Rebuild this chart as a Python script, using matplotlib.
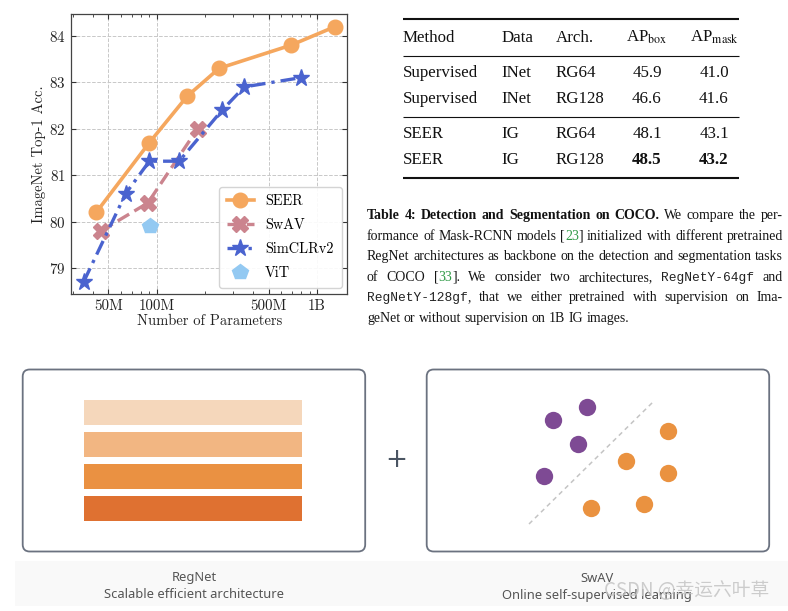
import matplotlib.pyplot as plt
import matplotlib.ticker as mticker
from matplotlib.patches import FancyBboxPatch, Rectangle

# ---- chart data ----
seer_params = [42e6, 90e6, 155e6, 245e6, 690e6, 1.3e9]
seer_acc = [80.2, 81.7, 82.7, 83.3, 83.8, 84.2]
swav_params = [45e6, 88e6, 180e6]
swav_acc = [79.8, 80.4, 82.0]
simclr_params = [35e6, 64e6, 90e6, 138e6, 256e6, 352e6, 795e6]
simclr_acc = [78.7, 80.6, 81.3, 81.3, 82.4, 82.9, 83.1]
vit_params = [91e6]
vit_acc = [79.9]

x_ticks = [50e6, 100e6, 500e6, 1e9]
x_tick_labels = ['50M', '100M', '500M', '1B']
y_ticks = [79, 80, 81, 82, 83, 84]

# ---- table ----
table_header = ['Method', 'Data', 'Arch.', r'AP$_{\rm box}$', r'AP$_{\rm mask}$']
table_rows = [
    ['Supervised', 'INet', 'RG64', '45.9', '41.0'],
    ['Supervised', 'INet', 'RG128', '46.6', '41.6'],
    ['SEER', 'IG', 'RG64', '48.1', '43.1'],
    ['SEER', 'IG', 'RG128', '48.5', '43.2'],
]
table_bold = [(3, 3), (3, 4)]

# ---- caption: (text, style) pieces, n=normal b=bold g=green ref m=mono ----
caption_lines = [
    [('Table 4: Detection and Segmentation on COCO.', 'b'), (' We compare the per-', 'n')],
    [('formance of Mask-RCNN models [', 'n'), ('23', 'g'), ('] initialized with different pretrained', 'n')],
    [('RegNet architectures as backbone on the detection and segmentation tasks', 'n')],
    [('of COCO [', 'n'), ('33', 'g'), (']. We consider two architectures, ', 'n'), ('RegNetY-64gf', 'm'), (' and', 'n')],
    [('RegNetY-128gf', 'm'), (', that we either pretrained with supervision on Ima-', 'n')],
    [('geNet or without supervision on 1B IG images.', 'n')],
]

# ---- bottom illustrations ----
regnet_colors = ['#f5d7bb', '#f2b682', '#ea9142', '#df7131']
purple_x = [553, 587, 578, 544]
purple_y = [420, 407, 444, 476]
orange_x = [668, 626, 668, 591, 644]
orange_y = [431, 461, 473, 508, 504]
sep_x = [529, 653]
sep_y = [524, 402]

plt.rcParams.update({
    'font.family': 'serif',
    'font.serif': ['cmr10'],
    'mathtext.fontset': 'cm',
    'axes.formatter.use_mathtext': True,
})

W, H = 788, 611
fig = plt.figure(figsize=(W / 100, H / 100), dpi=100)

# background axes in pixel coordinates for table, caption and diagrams
bg = fig.add_axes([0, 0, 1, 1])
bg.axis('off')

# ---------------- line chart ----------------
ax = fig.add_axes([71 / W, 1 - 294 / H, (347.3 - 71) / W, (294 - 14) / H])
ax.plot(seer_params, seer_acc, color='#f5a75e', lw=2.6, marker='o', ms=10.5, label='SEER')
ax.plot(swav_params, swav_acc, color='#cb848e', lw=2.4, ls=(0, (4, 1.8)), marker='X', ms=11,
        label='SwAV')
ax.plot(simclr_params, simclr_acc, color='#4a63cf', lw=2.4, ls=(0, (4.5, 1.8, 1, 1.8)), marker='*',
        ms=12.5, label='SimCLRv2')
ax.plot(vit_params, vit_acc, color='#93c9f2', lw=0, marker='p', ms=11.5, label='ViT')

ax.set_xscale('log')
ax.set_xlim(29.2e6, 1.545e9)
ax.set_ylim(78.44, 84.47)
ax.set_xticks(x_ticks)
ax.set_xticklabels(x_tick_labels)
ax.xaxis.set_minor_formatter(mticker.NullFormatter())
ax.set_yticks(y_ticks)
ax.tick_params(which='both', direction='in', top=True, right=True, labelsize=10.8, colors='#333333')
ax.tick_params(which='major', length=3.5, width=0.8, pad=4, labelcolor='#222222')
ax.tick_params(which='minor', length=2.5, width=0.6)
ax.grid(True, which='major', ls='--', color='#c8c8c8', lw=0.7)
for s in ax.spines.values():
    s.set_color('#444444')
    s.set_linewidth(0.9)
ax.set_xlabel('Number of Parameters', fontsize=10.5, labelpad=1, color='#222222')
ax.set_ylabel('ImageNet Top-1 Acc.', fontsize=10.5, labelpad=2, color='#222222')
leg = ax.legend(loc='lower right', fontsize=10.3, frameon=True, fancybox=True, framealpha=0.9,
                edgecolor='#d0d0d0', handlelength=1.9, borderaxespad=0.4, labelspacing=0.72,
                borderpad=0.55, handletextpad=0.8)

# ---------------- table ----------------
serif = 'Liberation Serif'
tab_fs = 12.2
col_x = [403, 501.7, 556, 647, 714]
col_ha = ['left', 'left', 'left', 'center', 'center']
header_y = 37.7
row_y = [73.3, 99, 134.5, 160]
for j, h in enumerate(table_header):
    bg.text(col_x[j], header_y, h, fontsize=tab_fs, family=serif, ha=col_ha[j], va='center',
            math_fontfamily='stix', color='#111111')
for i, row in enumerate(table_rows):
    for j, v in enumerate(row):
        bg.text(col_x[j], row_y[i], v, fontsize=tab_fs, family=serif, ha=col_ha[j], va='center',
                weight='bold' if (i, j) in table_bold else 'normal', color='#111111')
for yy, lw in [(19, 1.5), (55.7, 0.8), (116.7, 0.8), (177.7, 1.5)]:
    bg.plot([403, 739], [yy, yy], color='#111111', lw=lw, solid_capstyle='butt')

# ---------------- caption (justified) ----------------
renderer = fig.canvas.get_renderer()
cap_sizes = {'n': 10.0, 'g': 10.0, 'b': 10.0, 'm': 9.3}
cap_x0, cap_w = 367, 416
cap_base0, cap_step = 219, 20.6
styles = {
    'n': dict(family=serif, color='#151515'),
    'b': dict(family=serif, color='#111111', weight='bold'),
    'g': dict(family=serif, color='#2f9a46'),
    'm': dict(family='Liberation Mono', color='#222222'),
}


def split_words(segs):
    words = [[]]
    for text, st in segs:
        parts = text.split(' ')
        for k, p in enumerate(parts):
            if k > 0:
                words.append([])
            if p:
                words[-1].append((p, st))
    return [w for w in words if w]


all_lines = []
for i, segs in enumerate(caption_lines):
    y = cap_base0 + i * cap_step
    arts = []
    for w in split_words(segs):
        pieces = []
        for txt, st in w:
            t = bg.text(0, y, txt, fontsize=cap_sizes[st], ha='left', va='baseline', **styles[st])
            pieces.append((t, st))
        arts.append(pieces)
    all_lines.append(arts)

# normal text: scale so the plain third line fills the column with ordinary spaces
ref = all_lines[2]
tot = sum(t.get_window_extent(renderer).width for row in ref for t, _ in row)
nat = tot + (len(ref) - 1) * cap_sizes['n'] * 0.25 * 100 / 72
scale = cap_w / nat * 0.99
for arts in all_lines:
    for row in arts:
        for t, st in row:
            if st in ('n', 'g'):
                t.set_fontsize(cap_sizes[st] * scale)

for i, arts in enumerate(all_lines):
    widths = [[t.get_window_extent(renderer).width for t, _ in row] for row in arts]
    total = sum(sum(r) for r in widths)
    if i < len(all_lines) - 1:
        gap = (cap_w - total) / (len(arts) - 1)
    else:
        gap = cap_sizes['n'] * scale * 0.25 * 100 / 72
    x = cap_x0
    for row, wr in zip(arts, widths):
        for (t, _), wpx in zip(row, wr):
            t.set_x(x)
            x += wpx
        x += gap

# ---------------- bottom illustrations ----------------
bg.add_patch(Rectangle((15, 561), 773, 45, color='#f9f9f9', lw=0, zorder=0))
for bx in [22.7, 426.7]:
    bg.add_patch(FancyBboxPatch((bx, 369.5), 342.5, 182, boxstyle='round,pad=0,rounding_size=7',
                                facecolor='white', edgecolor='#6b7280', lw=1.3))

bar_h, bar_step, bar_top = 25, 32.1, 400
bar_centers = [bar_top + bar_h / 2 + k * bar_step for k in range(len(regnet_colors))]
bg.barh(bar_centers, 218, left=84.3, height=bar_h, color=regnet_colors, zorder=3)

bg.text(396, 460, '+', fontsize=19, family='DejaVu Sans', color='#4b5563', ha='center', va='center')

bg.plot(sep_x, sep_y, color='#c4c4c4', lw=1.1, ls=(0, (3, 2.5)), zorder=3)
bg.scatter(purple_x, purple_y, s=156, color='#7e4a94', lw=0, zorder=4)
bg.scatter(orange_x, orange_y, s=156, color='#ea9240', lw=0, zorder=4)

lab_font = 'Noto Sans'
lab_fs = 9.3
bg.text(194, 578, 'RegNet', fontsize=lab_fs, family=lab_font, color='#555555', ha='center', va='center')
bg.text(194, 595, 'Scalable efficient architecture', fontsize=lab_fs, family=lab_font, color='#555555',
        ha='center', va='center')
bg.text(597, 578, 'SwAV', fontsize=lab_fs, family=lab_font, color='#555555', ha='center', va='center')
bg.text(597, 595, 'Online self-supervised learning', fontsize=lab_fs, family=lab_font, color='#555555',
        ha='center', va='center')
bg.text(687, 591, 'CSDN @幸运六叶草', fontsize=13.5, family=['Noto Sans CJK SC', 'DejaVu Sans'],
        color='#c4c4c4', alpha=0.85, ha='center', va='center', zorder=5)

bg.set_xlim(0, W)
bg.set_ylim(H, 0)

fig.savefig('out.png', dpi=100)
